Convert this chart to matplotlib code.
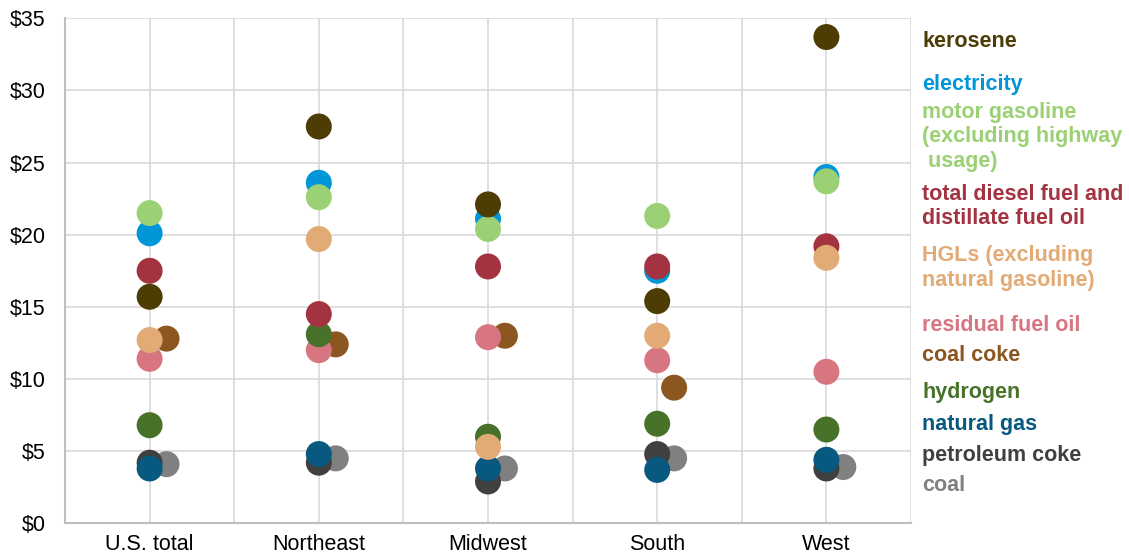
import numpy as np
import matplotlib
matplotlib.use("Agg")
import matplotlib.pyplot as plt
import matplotlib.transforms as mtransforms

plt.rcParams['font.family'] = ['Liberation Sans', 'DejaVu Sans']

# regions along the x axis
regions = ["U.S. total", "Northeast", "Midwest", "South", "West"]

# price per fuel and region (dollars)
kerosene = [15.7, 27.5, 22.1, 15.4, 33.7]
electricity = [20.1, 23.6, 21.1, 17.5, 24.0]
motor_gasoline = [21.5, 22.6, 20.4, 21.3, 23.7]
diesel = [17.5, 14.5, 17.8, 17.8, 19.2]
hgl = [12.7, 19.7, 5.3, 13.0, 18.4]
residual = [11.4, 12.0, 12.9, 11.3, 10.5]
coal_coke = [12.8, 12.4, 13.0, 9.4]
hydrogen = [6.8, 13.1, 6.0, 6.9, 6.5]
natural_gas = [3.8, 4.8, 3.8, 3.7, 4.4]
petroleum_coke = [4.2, 4.2, 2.9, 4.8, 3.8]
coal = [4.1, 4.5, 3.8, 4.5, 3.9]

# label text, values, colour, x offset; listed in drawing order
series = [
    ("coal", coal, "#808080", 0.2),
    ("coal coke", coal_coke, "#8b561f", 0.2),
    ("electricity", electricity, "#0096d7", 0.0),
    ("residual fuel oil", residual, "#d77681", 0.0),
    ("hydrogen", hydrogen, "#487229", 0.0),
    ("petroleum coke", petroleum_coke, "#404040", 0.0),
    ("natural gas", natural_gas, "#07597f", 0.0),
    ("total diesel fuel and\ndistillate fuel oil", diesel, "#a33340", 0.0),
    ("HGLs (excluding\nnatural gasoline)", hgl, "#e2ab76", 0.0),
    ("motor gasoline\n(excluding highway\n usage)", motor_gasoline, "#9bd074", 0.0),
    ("kerosene", kerosene, "#4e3c05", 0.0),
]

# where each label sits on the right (data units)
label_y = {
    "kerosene": 33.42,
    "electricity": 30.38,
    "motor gasoline\n(excluding highway\n usage)": 26.78,
    "total diesel fuel and\ndistillate fuel oil": 21.95,
    "HGLs (excluding\nnatural gasoline)": 17.7,
    "residual fuel oil": 13.74,
    "coal coke": 11.6,
    "hydrogen": 9.1,
    "natural gas": 6.88,
    "petroleum coke": 4.67,
    "coal": 2.6,
}

x_pos = np.arange(len(regions)) * 2 + 1

fig = plt.figure(figsize=(11.29, 5.54), dpi=100)
ax = fig.add_axes([0.0576, 0.0554, 0.7493, 0.9116])

for name, vals, color, dx in series:
    ax.scatter(x_pos[:len(vals)] + dx, vals, s=350, color=color,
               edgecolors='none', zorder=3)

ax.set_xlim(0, 10)
ax.set_ylim(0, 35)
ax.set_xticks(np.arange(0, 11))
ax.set_xticklabels([])
ax.set_yticks(np.arange(0, 36, 5))
ax.set_yticklabels(["$%d" % v for v in range(0, 36, 5)], fontsize=15.5)
ax.tick_params(axis='both', length=0)
ax.tick_params(axis='y', pad=14)
ax.grid(True, color='#d9d9d9', linewidth=1.2, zorder=0)
ax.set_axisbelow(True)
for side in ['top', 'right']:
    ax.spines[side].set_visible(False)
for side in ['left', 'bottom']:
    ax.spines[side].set_color('#bfbfbf')
    ax.spines[side].set_linewidth(1.5)

# category names under each column
for xp, name in zip(x_pos, regions):
    ax.text(xp, -0.75, name, ha='center', va='top', fontsize=15.5,
            transform=ax.transData, clip_on=False)

# coloured labels on the right
trans = mtransforms.blended_transform_factory(fig.transFigure, ax.transData)
for name, vals, color, dx in series:
    ax.text(0.8167, label_y[name], name, color=color, fontsize=15.5,
            fontweight='bold', ha='left', va='center', transform=trans,
            linespacing=1.2, clip_on=False)

fig.savefig("out.png", dpi=100)
